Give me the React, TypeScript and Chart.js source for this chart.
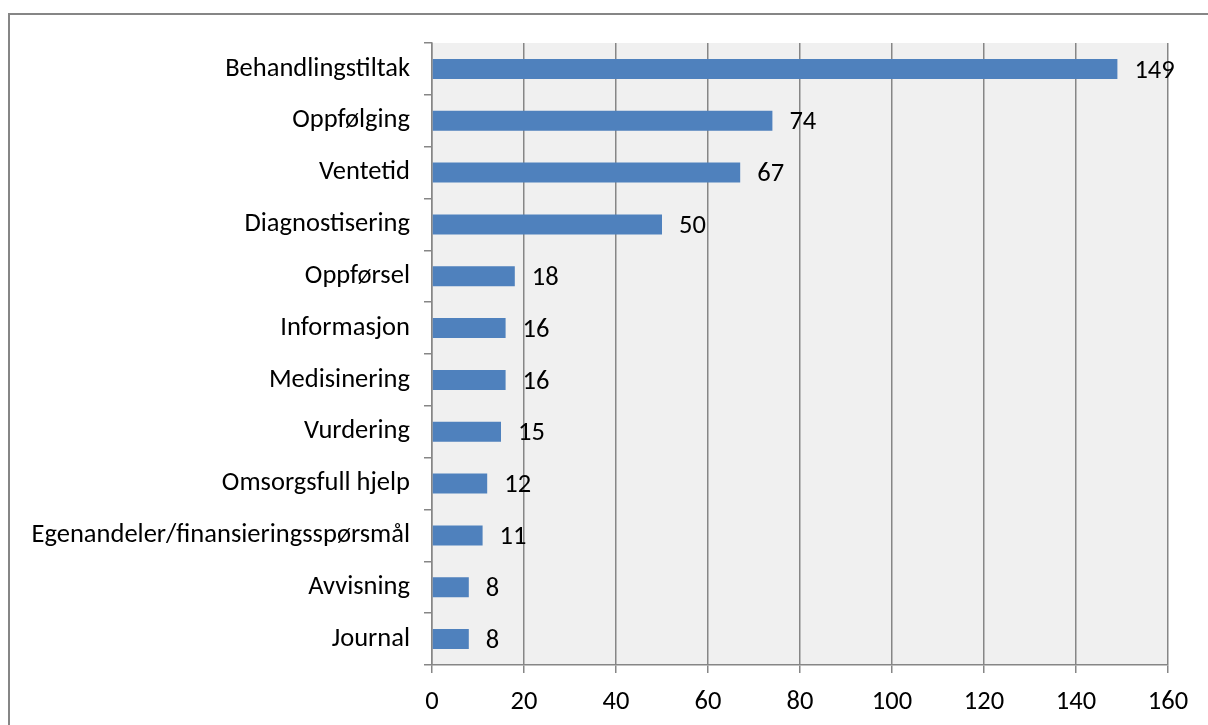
import React, { useEffect, useRef } from "react";
import { Chart, registerables } from "chart.js";

Chart.register(...registerables);

const categories = [
  "Behandlingstiltak",
  "Oppfølging",
  "Ventetid",
  "Diagnostisering",
  "Oppførsel",
  "Informasjon",
  "Medisinering",
  "Vurdering",
  "Omsorgsfull hjelp",
  "Egenandeler/finansieringsspørsmål",
  "Avvisning",
  "Journal",
];
const values = [149, 74, 67, 50, 18, 16, 16, 15, 12, 11, 8, 8];
const xMin = 0;
const xMax = 160;
const xStep = 20;

const FONT = "Carlito, Lato, sans-serif";
const FSIZE = 26.5;

export default function App() {
  const ref = useRef<HTMLCanvasElement | null>(null);
  useEffect(() => {
    document.body.style.margin = "0";
    const canvas = ref.current;
    if (!canvas) return;

    const plotBg = {
      id: "plotBg",
      beforeDraw(chart: any) {
        const { ctx, chartArea } = chart;
        ctx.save();
        ctx.fillStyle = "#f0f0f0";
        ctx.fillRect(chartArea.left, chartArea.top, chartArea.right - chartArea.left, chartArea.bottom - chartArea.top);
        ctx.restore();
      },
      afterDraw(chart: any) {
        const { ctx } = chart;
        ctx.save();
        ctx.strokeStyle = "#868686";
        ctx.lineWidth = 2;
        ctx.strokeRect(9, 14, 1400, 1000);
        ctx.restore();
      },
    };

    const dataLabels = {
      id: "dataLabels",
      afterDatasetsDraw(chart: any) {
        const { ctx } = chart;
        const meta = chart.getDatasetMeta(0);
        ctx.save();
        ctx.fillStyle = "#000";
        ctx.font = `${FSIZE}px ${FONT}`;
        ctx.textAlign = "left";
        ctx.textBaseline = "middle";
        meta.data.forEach((bar: any, i: number) => {
          ctx.fillText(String(values[i]), bar.x + 17, bar.y + 2);
        });
        ctx.restore();
      },
    };

    const chart = new Chart(canvas, {
      type: "bar",
      data: {
        labels: categories,
        datasets: [
          {
            data: values,
            backgroundColor: "#4f81bd",
            borderWidth: 0,
            barPercentage: 0.385,
            categoryPercentage: 1,
          },
        ],
      },
      options: {
        indexAxis: "y",
        animation: false,
        responsive: false,
        maintainAspectRatio: false,
        layout: { padding: { top: 43, right: 40, bottom: 0, left: 0 } },
        plugins: { legend: { display: false }, tooltip: { enabled: false } },
        scales: {
          x: {
            min: xMin,
            max: xMax,
            ticks: {
              stepSize: xStep,
              color: "#000",
              font: { family: FONT, size: FSIZE },
              padding: 13,
            },
            grid: {
              color: "#868686",
              lineWidth: 1.5,
              tickLength: 8,
            },
            border: { color: "#868686", width: 1.5 },
            afterFit(scale: any) {
              scale.height = 60;
            },
          },
          y: {
            ticks: {
              color: "#000",
              font: { family: FONT, size: FSIZE },
              padding: 14,
            },
            grid: {
              drawOnChartArea: false,
              color: "#868686",
              lineWidth: 1.5,
              tickLength: 8,
              offset: true,
            },
            border: { color: "#868686", width: 1.5 },
            afterFit(scale: any) {
              scale.width = 432;
            },
          },
        },
      },
      plugins: [plotBg, dataLabels],
    });
    return () => chart.destroy();
  }, []);
  return <canvas ref={ref} width={1208} height={725} style={{ display: "block" }} />;
}
